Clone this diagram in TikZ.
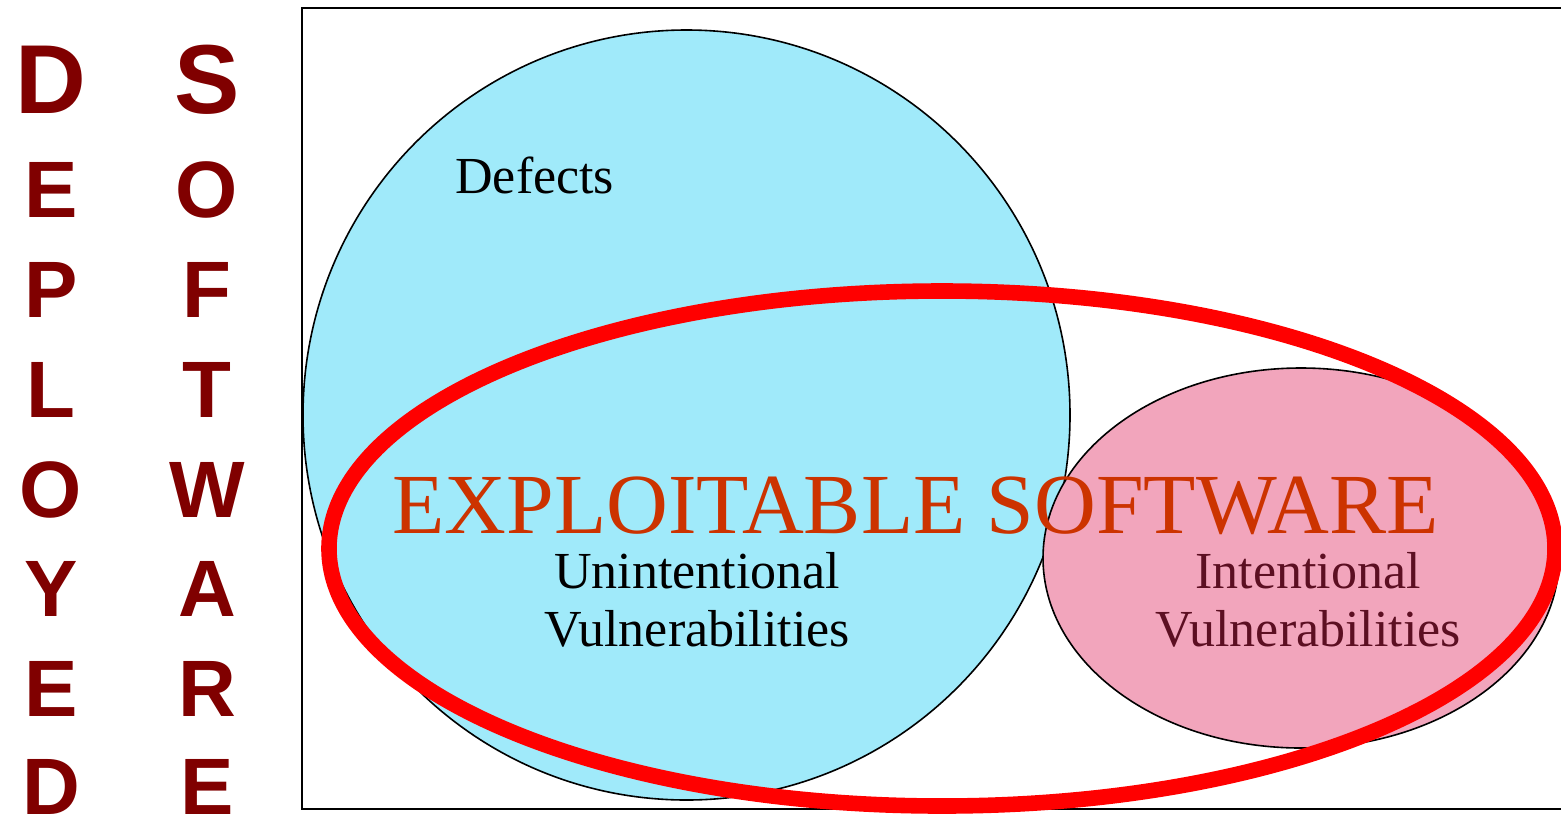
\documentclass[tikz,border=0pt]{standalone}
\usepackage{fontspec}
\setmainfont{Liberation Serif}
\newfontfamily\arialfont{Liberation Sans}
\definecolor{defectfill}{RGB}{160,234,250}
\definecolor{intentfill}{RGB}{242,165,188}
\definecolor{exploitred}{RGB}{255,0,0}
\definecolor{titleorange}{RGB}{204,51,0}
\definecolor{maroon}{RGB}{128,0,0}
\definecolor{darkwine}{RGB}{92,15,34}
\tikzset{
  sideletter/.style={font=\arialfont\bfseries\fontsize{40}{40}\selectfont, text=maroon, anchor=base, inner sep=0pt},
  bigletter/.style={sideletter, font=\arialfont\bfseries\fontsize{49}{49}\selectfont},
  setlabel/.style={font=\fontsize{26}{29}\selectfont, align=center, inner sep=0pt, anchor=base},
  outline/.style={draw=black, line width=0.8pt},
}
\begin{document}
\begin{tikzpicture}[x=0.5pt,y=-0.5pt]
\useasboundingbox (0,0) rectangle (1561,815);
\clip (0,0) rectangle (1561,815);
% frame of deployed software
\draw[line width=1.3pt] (1640,8) -- (302,8) -- (302,809) -- (1640,809);
% defects
\filldraw[outline, fill=defectfill] (686.5,415) ellipse [x radius=383.5, y radius=385];
% intentional vulnerabilities
\filldraw[outline, fill=intentfill] (1301,558) ellipse [x radius=258, y radius=190];
% exploitable software
\draw[exploitred, line width=7.8pt] (942,548.5) ellipse [x radius=613, y radius=257.5];
% labels
\node[setlabel, anchor=base west] (defects) at (455,193) {Defects};
\node[anchor=base west, inner sep=0pt, font=\fontsize{42.8}{43}\selectfont, text=titleorange] (exploit) at (392,533) {EXPLOITABLE SOFTWARE};
\node[setlabel] (unint1) at (697,588) {Unintentional};
\node[setlabel] (unint2) at (697,646) {Vulnerabilities};
\node[setlabel, text=darkwine] (int1) at (1308,588) {Intentional};
\node[setlabel, text=darkwine] (int2) at (1308,646) {Vulnerabilities};
% vertical side words
\node[bigletter] (d1) at (51,113) {D};
\node[sideletter] (d2) at (51,217) {E};
\node[sideletter] (d3) at (51,317) {P};
\node[sideletter] (d4) at (51,417) {L};
\node[sideletter] (d5) at (51,517) {O};
\node[sideletter] (d6) at (51,616) {Y};
\node[sideletter] (d7) at (51,716) {E};
\node[sideletter] (d8) at (51,814) {D};
\node[bigletter] (s1) at (207,113) {S};
\node[sideletter] (s2) at (207,217) {O};
\node[sideletter] (s3) at (207,317) {F};
\node[sideletter] (s4) at (207,417) {T};
\node[sideletter] (s5) at (207,517) {W};
\node[sideletter] (s6) at (207,616) {A};
\node[sideletter] (s7) at (207,716) {R};
\node[sideletter] (s8) at (207,814) {E};
\end{tikzpicture}
\end{document}
